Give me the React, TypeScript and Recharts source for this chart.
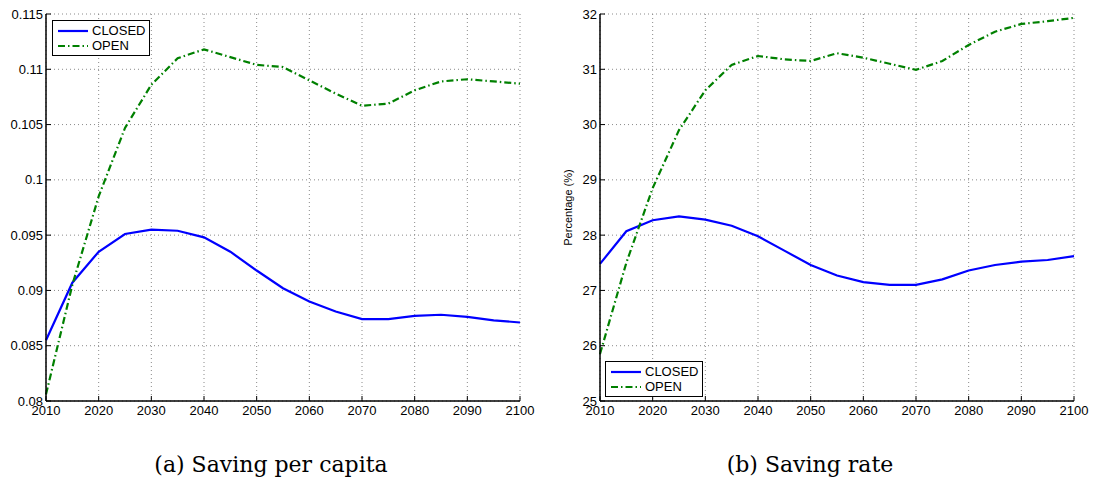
import React from 'react';
import { LineChart, Line, XAxis, YAxis, CartesianGrid, Legend } from 'recharts';

const years = [2010, 2015, 2020, 2025, 2030, 2035, 2040, 2045, 2050, 2055, 2060, 2065, 2070, 2075, 2080, 2085, 2090, 2095, 2100];
const closedPerCapita = [0.0855, 0.0907, 0.0935, 0.0951, 0.0955, 0.0954, 0.0948, 0.0935, 0.0918, 0.0902, 0.0890, 0.0881, 0.0874, 0.0874, 0.0877, 0.0878, 0.0876, 0.0873, 0.0871];
const openPerCapita = [0.0806, 0.0905, 0.0985, 0.1047, 0.1086, 0.1110, 0.1118, 0.1111, 0.1104, 0.1102, 0.1090, 0.1078, 0.1067, 0.1069, 0.1081, 0.1089, 0.1091, 0.1089, 0.1087];
const closedRate = [27.48, 28.07, 28.27, 28.34, 28.28, 28.17, 27.98, 27.72, 27.46, 27.27, 27.15, 27.10, 27.10, 27.20, 27.36, 27.46, 27.52, 27.55, 27.62];
const openRate = [25.85, 27.5, 28.85, 29.9, 30.62, 31.08, 31.24, 31.18, 31.15, 31.29, 31.21, 31.10, 30.99, 31.15, 31.44, 31.68, 31.82, 31.87, 31.93];

const xTicks = [2010, 2020, 2030, 2040, 2050, 2060, 2070, 2080, 2090, 2100];
const yTicksA = [0.08, 0.085, 0.09, 0.095, 0.1, 0.105, 0.11, 0.115];
const yTicksB = [25, 26, 27, 28, 29, 30, 31, 32];
const yLabelsA = ['0.08', '0.085', '0.09', '0.095', '0.1', '0.105', '0.11', '0.115'];
const yLabelsB = ['25', '26', '27', '28', '29', '30', '31', '32'];
const seriesNames = ['CLOSED', 'OPEN'];
const captions = ['(a) Saving per capita', '(b) Saving rate'];
const yTitleB = 'Percentage (%)';

const dataA = years.map((y, i) => ({ year: y, closed: closedPerCapita[i], open: openPerCapita[i] }));
const dataB = years.map((y, i) => ({ year: y, closed: closedRate[i], open: openRate[i] }));

const FONT = '"Liberation Sans", Arial, sans-serif';
const BLUE = '#0000ff';
const GREEN = '#008000';
const DASH = '7 3 1.5 3';
const TICK_LEN = 5;

const BottomTick = (props: any) => {
  const { x, y, payload } = props;
  return (
    <g>
      <line x1={x} x2={x} y1={y} y2={y - TICK_LEN} stroke="#000" strokeWidth={1} />
      <text x={x} y={y + 14} textAnchor="middle" fontFamily={FONT} fontSize={13} fill="#000">
        {payload.value}
      </text>
    </g>
  );
};

const makeLeftTick = (labels: string[], ticks: number[]) => (props: any) => {
  const { x, y, payload } = props;
  const idx = ticks.indexOf(payload.value);
  const label = idx >= 0 ? labels[idx] : String(payload.value);
  return (
    <g>
      <line x1={x} x2={x + TICK_LEN} y1={y} y2={y} stroke="#000" strokeWidth={1} />
      <text x={x - 3} y={y + 4.5} textAnchor="end" fontFamily={FONT} fontSize={13} fill="#000">
        {label}
      </text>
    </g>
  );
};

const TopTick = (props: any) => {
  const { x, y } = props;
  return <line x1={x} x2={x} y1={y} y2={y + TICK_LEN} stroke="#000" strokeWidth={1} />;
};

const RightTick = (props: any) => {
  const { x, y } = props;
  return <line x1={x} x2={x - TICK_LEN} y1={y} y2={y} stroke="#000" strokeWidth={1} />;
};

const LegendBox = () => (
  <div
    style={{
      boxSizing: 'border-box',
      width: 98,
      height: 36,
      border: '1.5px solid #000',
      background: '#fff',
      padding: '2px 0 0 5px',
      fontFamily: FONT,
      fontSize: 13,
      color: '#000',
    }}
  >
    {seriesNames.map((name, i) => (
      <div key={name} style={{ display: 'flex', alignItems: 'center', height: 15, lineHeight: '15px' }}>
        <svg width={30} height={6} style={{ marginRight: 4 }}>
          <line
            x1={0}
            x2={30}
            y1={3}
            y2={3}
            stroke={i === 0 ? BLUE : GREEN}
            strokeWidth={2.2}
            strokeDasharray={i === 0 ? undefined : DASH}
          />
        </svg>
        <span>{name}</span>
      </div>
    ))}
  </div>
);

const axisLineStyle = { stroke: '#000', strokeWidth: 1.5 };

function Panel(props: {
  data: any[];
  domain: [number, number];
  yTicks: number[];
  yLabels: string[];
  legendPos: { left: number; top: number };
  yTitle?: string;
}) {
  const { data, domain, yTicks, yLabels, legendPos, yTitle } = props;
  return (
    <LineChart width={540} height={430} data={data} margin={{ top: 14, right: 20, bottom: 0, left: 0 }}>
      <CartesianGrid stroke="#8a8a8a" strokeDasharray="1 3" strokeWidth={1} />
      <XAxis
        dataKey="year"
        type="number"
        domain={[2010, 2100]}
        ticks={xTicks}
        height={29}
        tickSize={0}
        tickMargin={0}
        tickLine={false}
        axisLine={axisLineStyle}
        tick={<BottomTick />}
        interval={0}
      />
      <XAxis
        xAxisId="top"
        orientation="top"
        dataKey="year"
        type="number"
        domain={[2010, 2100]}
        ticks={xTicks}
        height={0}
        tickSize={0}
        tickMargin={0}
        tickLine={false}
        axisLine={axisLineStyle}
        tick={<TopTick />}
        interval={0}
      />
      <YAxis
        type="number"
        domain={domain}
        ticks={yTicks}
        width={46}
        tickSize={0}
        tickMargin={0}
        tickLine={false}
        axisLine={axisLineStyle}
        tick={makeLeftTick(yLabels, yTicks)}
        interval={0}
        allowDataOverflow
        label={
          yTitle
            ? { value: yTitle, angle: -90, position: 'insideLeft', offset: 14, style: { fontFamily: FONT, fontSize: 11, fill: '#000', textAnchor: 'middle' } }
            : undefined
        }
      />
      <YAxis
        yAxisId="right"
        orientation="right"
        type="number"
        domain={domain}
        ticks={yTicks}
        width={0}
        tickSize={0}
        tickMargin={0}
        tickLine={false}
        axisLine={axisLineStyle}
        tick={<RightTick />}
        interval={0}
        allowDataOverflow
      />
      <Legend
        layout="vertical"
        align="center"
        verticalAlign="middle"
        content={<LegendBox />}
        wrapperStyle={{ left: legendPos.left, top: legendPos.top, width: 98, height: 36 }}
      />
      <Line
        type="linear"
        dataKey="closed"
        name={seriesNames[0]}
        stroke={BLUE}
        strokeWidth={2.2}
        dot={false}
        isAnimationActive={false}
      />
      <Line
        type="linear"
        dataKey="open"
        name={seriesNames[1]}
        stroke={GREEN}
        strokeWidth={2.2}
        strokeDasharray={DASH}
        dot={false}
        isAnimationActive={false}
      />
    </LineChart>
  );
}

const captionStyle: React.CSSProperties = {
  position: 'absolute',
  top: 451,
  textAlign: 'center',
  fontFamily: '"DejaVu Serif", serif',
  fontSize: 22,
  lineHeight: '28px',
  color: '#000',
};

export default function App() {
  return (
    <div style={{ position: 'absolute', left: 0, top: 0, width: 1094, height: 489, background: '#fff' }}>
      <div style={{ position: 'absolute', left: 0, top: 0 }}>
        <Panel data={dataA} domain={[0.08, 0.115]} yTicks={yTicksA} yLabels={yLabelsA} legendPos={{ left: 52, top: 20 }} />
      </div>
      <div style={{ position: 'absolute', left: 554, top: 0 }}>
        <Panel
          data={dataB}
          domain={[25, 32]}
          yTicks={yTicksB}
          yLabels={yLabelsB}
          legendPos={{ left: 51, top: 361 }}
          yTitle={yTitleB}
        />
      </div>
      <div style={{ ...captionStyle, left: 0, width: 542 }}>{captions[0]}</div>
      <div style={{ ...captionStyle, left: 554, width: 512 }}>{captions[1]}</div>
    </div>
  );
}
